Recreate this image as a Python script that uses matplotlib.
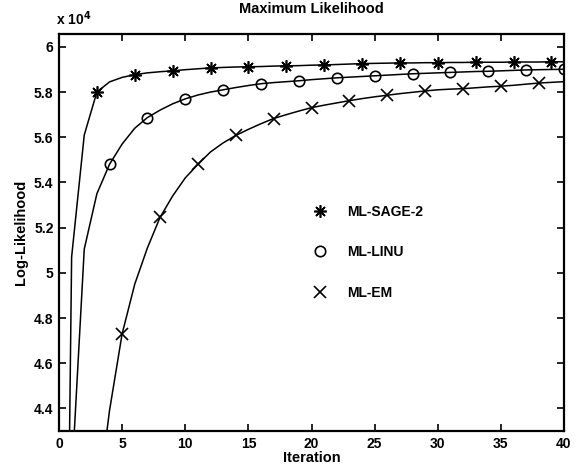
import matplotlib
matplotlib.use("Agg")
import matplotlib.pyplot as plt
from matplotlib import ticker
from matplotlib.lines import Line2D

# Log-likelihood values, in units of 1e4, iterations 0..40
iterations = list(range(41))

sage2 = [0.30, 5.07, 5.61, 5.80, 5.845, 5.865, 5.877, 5.885, 5.890, 5.894,
         5.899, 5.903, 5.907, 5.909, 5.911, 5.912, 5.913, 5.915, 5.916, 5.917,
         5.919, 5.920, 5.922, 5.924, 5.926, 5.927, 5.928, 5.929, 5.929, 5.930,
         5.930, 5.931, 5.931, 5.932, 5.932, 5.932, 5.933, 5.933, 5.933, 5.934,
         5.934]

linu = [0.30, 4.08, 5.105, 5.35, 5.48, 5.57, 5.64, 5.687, 5.72, 5.748,
        5.770, 5.787, 5.800, 5.810, 5.820, 5.829, 5.837, 5.842, 5.846, 5.850,
        5.855, 5.859, 5.863, 5.866, 5.869, 5.872, 5.875, 5.878, 5.881, 5.883,
        5.885, 5.887, 5.889, 5.891, 5.892, 5.894, 5.896, 5.898, 5.899, 5.900,
        5.901]

em = [0.30, 2.50, 3.40, 3.95, 4.39, 4.73, 4.95, 5.11, 5.245, 5.34,
      5.42, 5.48, 5.535, 5.575, 5.608, 5.635, 5.66, 5.683, 5.70, 5.716,
      5.731, 5.742, 5.752, 5.762, 5.771, 5.779, 5.786, 5.793, 5.799, 5.805,
      5.810, 5.813, 5.815, 5.819, 5.823, 5.826, 5.830, 5.835, 5.840, 5.843,
      5.846]

series_names = ["ML-SAGE-2", "ML-LINU", "ML-EM"]

plt.rcParams["font.family"] = ["Liberation Sans", "DejaVu Sans"]
plt.rcParams["font.weight"] = "bold"
plt.rcParams["font.size"] = 10

fig = plt.figure(figsize=(5.81, 4.73), dpi=100)
ax = fig.add_axes([59 / 581, 1 - 431 / 473, 505 / 581, 397 / 473])

asterisk = (8, 2, 0)
line_kw = dict(color="black", linewidth=1.1, markeredgewidth=1.2,
               markerfacecolor="none", markeredgecolor="black")

ax.plot(iterations, sage2, marker=asterisk, markersize=9,
        markevery=(3, 3), **line_kw)
ax.plot(iterations, linu, marker="o", markersize=7.5,
        markevery=(4, 3), **line_kw)
ax.plot(iterations, em, marker="x", markersize=8.5,
        markevery=(5, 3), **line_kw)

ax.set_xlim(0, 40)
ax.set_ylim(4.3, 6.057)
ax.set_xticks(range(0, 41, 5))
ax.set_yticks([4.4, 4.6, 4.8, 5.0, 5.2, 5.4, 5.6, 5.8, 6.0])
ax.yaxis.set_major_formatter(ticker.FuncFormatter(lambda v, p: f"{v:g}"))

ax.tick_params(direction="in", top=True, right=True, length=5,
               width=1.2, labelsize=10, pad=4)
for lab in ax.get_xticklabels() + ax.get_yticklabels():
    lab.set_fontweight("bold")
for sp in ax.spines.values():
    sp.set_linewidth(1.6)

ax.set_title("Maximum Likelihood", fontsize=10.5, fontweight="bold", pad=15)
ax.set_xlabel("Iteration", fontsize=10.5, fontweight="bold", labelpad=0)
ax.set_ylabel("Log-Likelihood", fontsize=10.5, fontweight="bold", labelpad=4)
fig.text(56 / 581, 1 - 19 / 473, r"x 10$^{\mathbf{4}}$", fontsize=10,
         fontweight="bold", va="center", ha="left")

handles = [
    Line2D([], [], linestyle="none", marker=asterisk, markersize=9,
           color="black", markeredgewidth=1.2),
    Line2D([], [], linestyle="none", marker="o", markersize=7.5,
           markerfacecolor="none", markeredgecolor="black",
           markeredgewidth=1.2),
    Line2D([], [], linestyle="none", marker="x", markersize=8.5,
           color="black", markeredgewidth=1.2),
]
ax.legend(handles, series_names, frameon=False, loc="center left",
          bbox_to_anchor=(0.49, 0.45), borderpad=0, handlelength=1.0,
          handletextpad=1.4, labelspacing=1.9,
          prop={"weight": "bold", "size": 10})

fig.savefig("out.png", dpi=100)
